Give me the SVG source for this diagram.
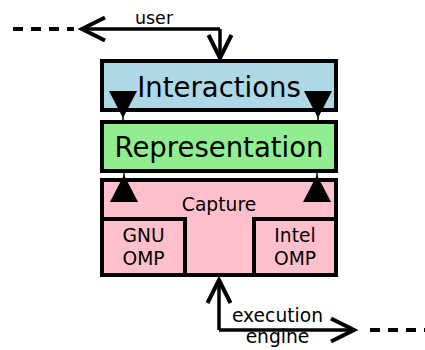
<svg xmlns="http://www.w3.org/2000/svg" width="425" height="350" viewBox="0 0 425 350">
<defs>
<style>
.box{stroke:#000;stroke-width:4}
.t{font-family:"DejaVu Sans",sans-serif;fill:#000;text-anchor:middle}
.big{font-size:27.5px}
.sm{font-size:18.7px}
.ln{fill:none;stroke:#000;stroke-width:3.5}
.dash{fill:none;stroke:#000;stroke-width:4;stroke-dasharray:10 8}
.tri{fill:#000}
</style>
<marker id="chev" viewBox="0 0 30 30" refX="26" refY="15" markerWidth="30" markerHeight="30" markerUnits="userSpaceOnUse" orient="auto">
<polyline points="3,3.5 26,15 3,26.5" fill="none" stroke="#000" stroke-width="4"/>
</marker>
</defs>
<rect width="425" height="350" fill="#fff"/>
<g id="interactions">
<rect class="box" x="102" y="61" width="234" height="49" fill="#ADD8E6"/>
<text class="t big" x="219" y="97">Interactions</text>
</g>
<g id="representation">
<rect class="box" x="102" y="122" width="234" height="49" fill="#90EE90"/>
<text class="t big" x="219" y="157">Representation</text>
</g>
<g id="capture">
<rect class="box" x="102" y="180" width="234" height="95" fill="#FFC0CB"/>
<text class="t sm" x="219" y="211">Capture</text>
</g>
<g id="gnu-omp">
<rect class="box" x="102" y="219" width="83" height="56" fill="#FFC0CB"/>
<text class="t sm" x="143.5" y="242">GNU</text>
<text class="t sm" x="143.5" y="265">OMP</text>
</g>
<g id="intel-omp">
<rect class="box" x="254" y="219" width="82" height="56" fill="#FFC0CB"/>
<text class="t sm" x="295" y="242">Intel</text>
<text class="t sm" x="295" y="265">OMP</text>
</g>
<g id="connectors">
<line class="dash" x1="13" y1="29" x2="74" y2="29"/>
<path class="ln" d="M220,29 H82" marker-end="url(#chev)"/>
<path class="ln" d="M220,29 V58" marker-end="url(#chev)"/>
<text class="t sm" x="154" y="24" style="font-size:17.5px">user</text>
<line x1="123" y1="110" x2="123" y2="121" stroke="#000" stroke-width="1.5"/>
<line x1="318" y1="110" x2="318" y2="121" stroke="#000" stroke-width="1.5"/>
<polygon class="tri" points="109,91 137,91 123,118"/>
<polygon class="tri" points="304,91 332,91 318,118"/>
<line x1="124" y1="171" x2="124" y2="180" stroke="#000" stroke-width="1.5"/>
<line x1="317" y1="171" x2="317" y2="180" stroke="#000" stroke-width="1.5"/>
<polygon class="tri" points="110,202 138,202 124,175"/>
<polygon class="tri" points="303,202 331,202 317,175"/>
<path class="ln" d="M219,330 V280" marker-end="url(#chev)"/>
<path class="ln" d="M219,330 H354" marker-end="url(#chev)"/>
<line class="dash" x1="370" y1="330" x2="425" y2="330"/>
<text class="t sm" x="277.5" y="322">execution</text>
<text class="t sm" x="277.5" y="343">engine</text>
</g>
</svg>
